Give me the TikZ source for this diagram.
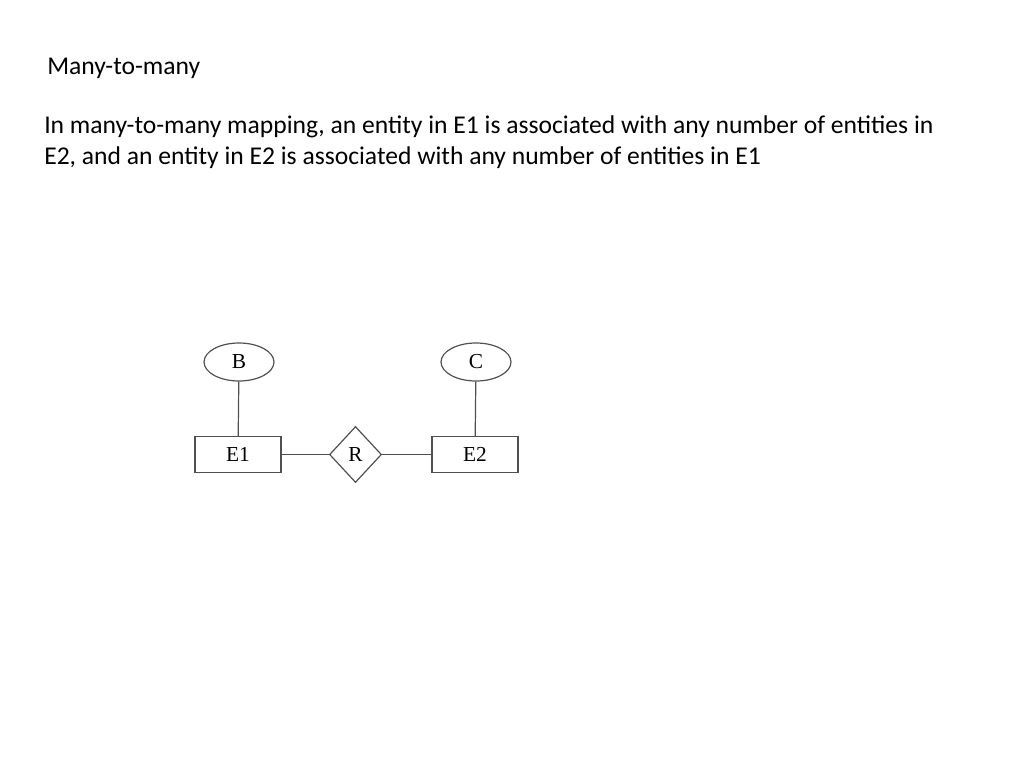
\documentclass[tikz,border=0pt]{standalone}
\usepackage{fontspec}
\setmainfont{Carlito}
\newfontfamily\labelfont{Liberation Serif}
\usetikzlibrary{shapes.geometric}
\definecolor{stroke}{HTML}{505050}
\begin{document}
\begin{tikzpicture}[x=0.75pt,y=-0.75pt,
  txt/.style={anchor=base west,inner sep=0pt,font=\fontsize{19.2}{23}\selectfont},
  lbl/.style={font=\labelfont\fontsize{16}{18}\selectfont},
  ent/.style={lbl,draw=stroke,line width=0.9pt,rectangle,minimum width=64.5pt,minimum height=27pt,inner sep=0pt},
  attr/.style={lbl,draw=stroke,line width=0.9pt,ellipse,minimum width=52.5pt,minimum height=28.5pt,inner sep=0pt},
  rel/.style={lbl,draw=stroke,line width=0.9pt,diamond,minimum width=39pt,minimum height=42pt,inner sep=0pt},
  conn/.style={draw=stroke,line width=0.9pt}]
\useasboundingbox (0,0) rectangle (1024,768);
\node[txt] (title) at (47,74) {Many-to-many};
\node[txt] (line1) at (44,133) {In many-to-many mapping, an entity in E1 is associated with any number of entities in};
\node[txt] (line2) at (44,164) {E2, and an entity in E2 is associated with any number of entities in E1};
\node[attr] (B) at (239,362) {B};
\node[attr] (C) at (476,362) {C};
\node[ent] (E1) at (238,454.5) {E1};
\node[ent] (E2) at (475,454.5) {E2};
\node[rel] (R) at (355.5,454.5) {R};
\draw[conn] (B) -- (E1);
\draw[conn] (C) -- (E2);
\draw[conn] (E1) -- (R);
\draw[conn] (R) -- (E2);
\end{tikzpicture}
\end{document}
